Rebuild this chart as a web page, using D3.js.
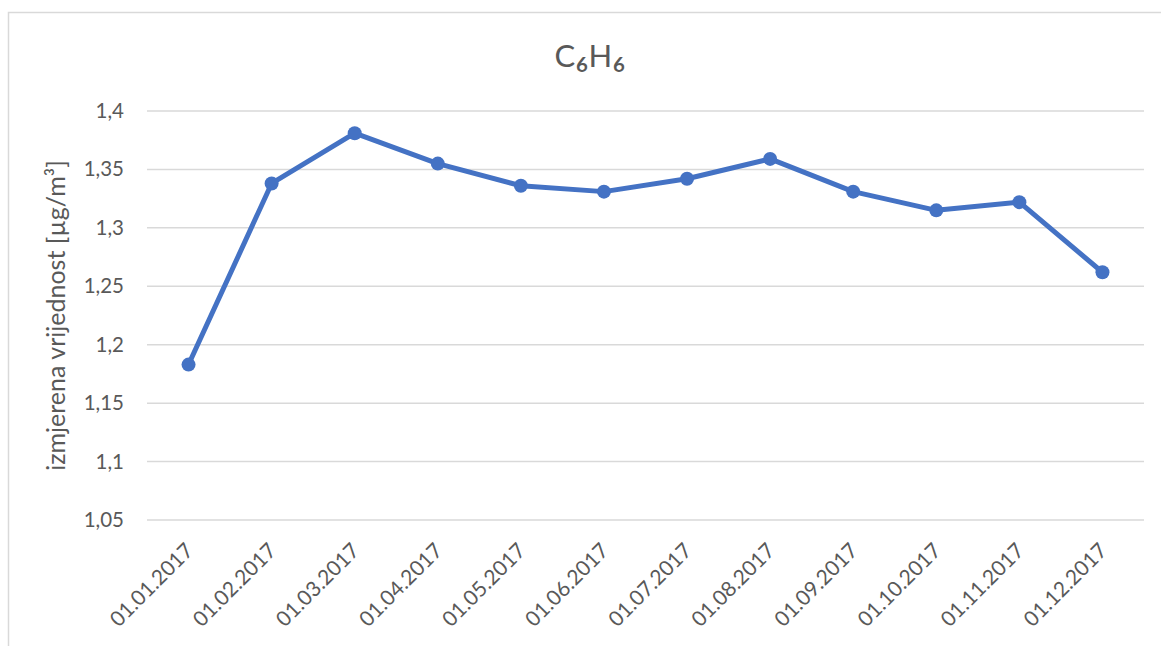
<!DOCTYPE html>
<html>
<head>
<meta charset="utf-8">
<script src="https://cdn.jsdelivr.net/npm/d3@7"></script>
<style>
  body { margin: 0; background: #fff; }
  svg { display: block; font-family: "Lato", "Open Sans", sans-serif; }
</style>
</head>
<body>
<div id="chart"></div>
<script>
var months = ["01.01.2017", "01.02.2017", "01.03.2017", "01.04.2017", "01.05.2017", "01.06.2017",
              "01.07.2017", "01.08.2017", "01.09.2017", "01.10.2017", "01.11.2017", "01.12.2017"];
var values = [1.183, 1.338, 1.381, 1.355, 1.336, 1.331, 1.342, 1.359, 1.331, 1.315, 1.322, 1.262];
var yTicks = [1.05, 1.1, 1.15, 1.2, 1.25, 1.3, 1.35, 1.4];
var titleParts = [["C", false], ["₆", true], ["H", false], ["₆", true]];

var width = 1161, height = 646;
var margin = { top: 111, right: 17, bottom: 126, left: 147 };

var svg = d3.select("#chart")
  .append("svg")
  .attr("width", width)
  .attr("height", height);

// chart frame (right and bottom edges fall outside the window)
svg.append("rect")
  .attr("x", 8.5)
  .attr("y", 12.5)
  .attr("width", width + 20)
  .attr("height", height + 20)
  .attr("fill", "none")
  .attr("stroke", "#d9d9d9")
  .attr("stroke-width", 1.5);

var x = d3.scaleBand()
  .domain(months)
  .range([margin.left, width - margin.right]);

var y = d3.scaleLinear()
  .domain([1.05, 1.4])
  .range([height - margin.bottom, margin.top]);

var fmt = function (d) { return String(+d.toFixed(2)).replace(".", ","); };

// gridlines
svg.append("g")
  .attr("class", "grid")
  .selectAll("line")
  .data(yTicks)
  .enter().append("line")
  .attr("x1", margin.left)
  .attr("x2", width - margin.right)
  .attr("y1", function (d) { return y(d); })
  .attr("y2", function (d) { return y(d); })
  .attr("stroke", "#d9d9d9")
  .attr("stroke-width", 1.5);

// y axis labels
var yAxis = svg.append("g")
  .attr("transform", "translate(" + (margin.left - 23) + ",0)")
  .call(d3.axisLeft(y).tickValues(yTicks).tickFormat(fmt).tickSize(0).tickPadding(0));
yAxis.select(".domain").remove();
yAxis.selectAll("text")
  .attr("fill", "#595959")
  .style("font-size", "20.5px")
  .style("font-family", "Lato, 'Open Sans', sans-serif");

// x axis labels, rotated
var xAxis = svg.append("g")
  .attr("transform", "translate(0," + (height - margin.bottom) + ")")
  .call(d3.axisBottom(x).tickSize(0).tickPadding(0));
xAxis.select(".domain").remove();
xAxis.selectAll("text")
  .attr("fill", "#595959")
  .style("font-size", "21px")
  .style("font-family", "Lato, 'Open Sans', sans-serif")
  .attr("text-anchor", "end")
  .attr("dy", null)
  .attr("y", 0)
  .attr("transform", "translate(6,32) rotate(-45)");

// y axis title
svg.append("text")
  .attr("transform", "translate(65," + ((margin.top + height - margin.bottom) / 2) + ") rotate(-90)")
  .attr("text-anchor", "middle")
  .attr("fill", "#595959")
  .style("font-size", "25px")
  .text("izmjerena vrijednost [µg/m³]");

// title, subscript glyphs drawn larger like in the original
var title = svg.append("text")
  .attr("x", 590)
  .attr("y", 67)
  .attr("text-anchor", "middle")
  .attr("fill", "#595959")
  .style("font-size", "31px");

title.selectAll("tspan")
  .data(titleParts)
  .enter().append("tspan")
  .style("font-size", function (d) { return d[1] ? "40px" : null; })
  .text(function (d) { return d[0]; });

var cx = function (d, i) { return x(months[i]) + x.bandwidth() / 2; };

var line = d3.line()
  .x(cx)
  .y(function (d) { return y(d); });

svg.append("path")
  .datum(values)
  .attr("d", line)
  .attr("fill", "none")
  .attr("stroke", "#4472c4")
  .attr("stroke-width", 5)
  .attr("stroke-linejoin", "round");

svg.append("g")
  .selectAll("circle")
  .data(values)
  .enter().append("circle")
  .attr("cx", cx)
  .attr("cy", function (d) { return y(d); })
  .attr("r", 7)
  .attr("fill", "#4472c4");
</script>
</body>
</html>
